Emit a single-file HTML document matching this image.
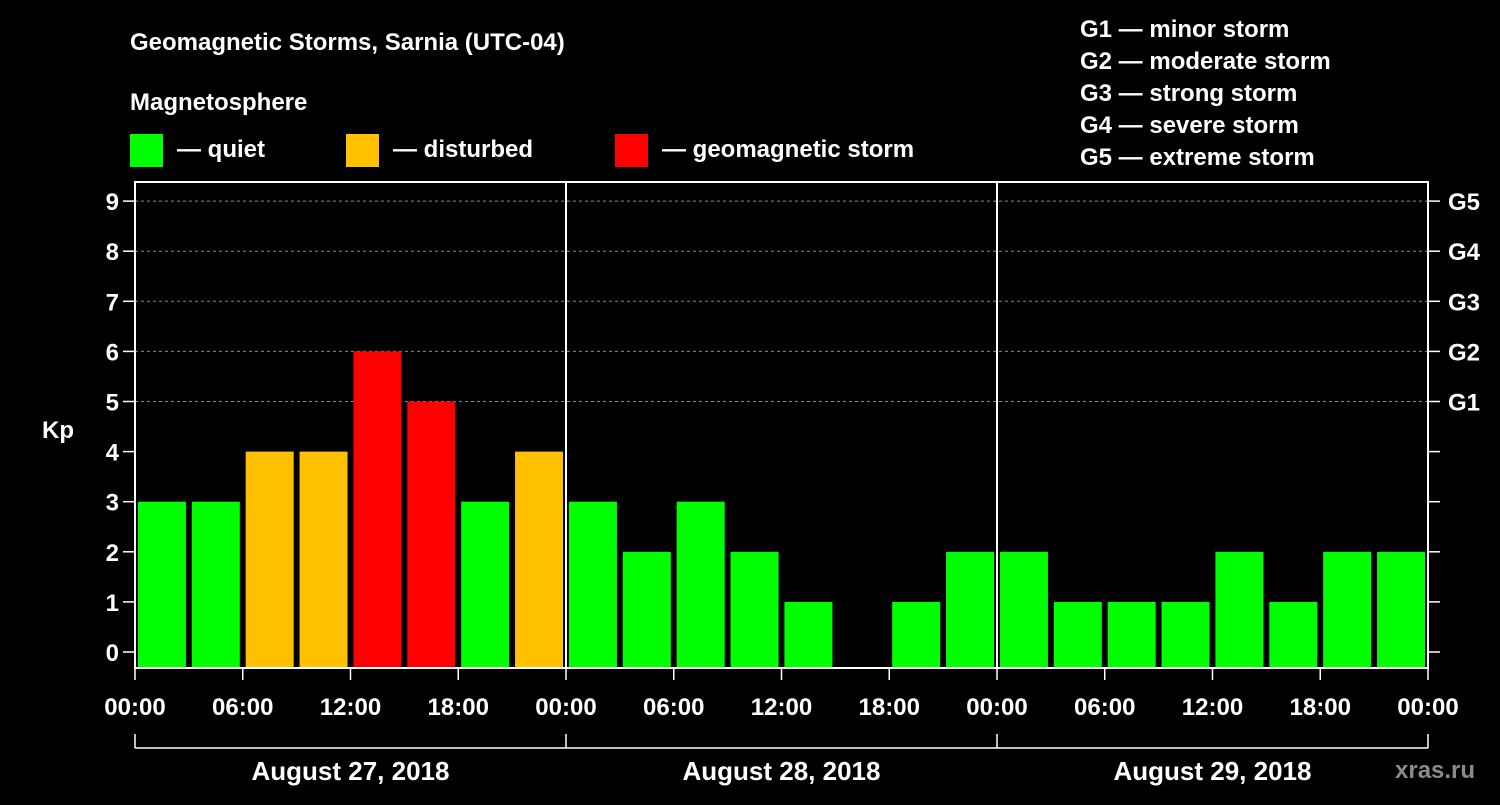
<!DOCTYPE html>
<html><head><meta charset="utf-8"><style>
html,body{margin:0;padding:0;background:#000;}
svg text{font-family:"Liberation Sans",Arial,sans-serif;font-weight:bold;fill:#fff;}
</style></head><body>
<svg id="chart" width="1500" height="800" viewBox="0 0 1500 800" xmlns="http://www.w3.org/2000/svg">
<rect width="1500" height="800" fill="#000"/>
<text x="130" y="50" font-size="24">Geomagnetic Storms, Sarnia (UTC-04)</text>
<text x="130" y="110" font-size="24">Magnetosphere</text>
<g><rect x="130" y="134" width="33" height="33" fill="#00ff00"/><text x="177" y="157" font-size="24">— quiet</text></g>
<g><rect x="346" y="134" width="33" height="33" fill="#ffc000"/><text x="393" y="157" font-size="24">— disturbed</text></g>
<g><rect x="615" y="134" width="33" height="33" fill="#ff0000"/><text x="662" y="157" font-size="24">— geomagnetic storm</text></g>
<g font-size="24">
<text x="1080" y="37" font-size="24">G1 — minor storm</text>
<text x="1080" y="69" font-size="24">G2 — moderate storm</text>
<text x="1080" y="101" font-size="24">G3 — strong storm</text>
<text x="1080" y="133" font-size="24">G4 — severe storm</text>
<text x="1080" y="165" font-size="24">G5 — extreme storm</text>
</g>
<text x="42" y="438" font-size="24">Kp</text>
<text x="1395" y="778" font-size="24" fill="#888" style="fill:#8a8a8a">xras.ru</text>
<g id="plot"></g>
</svg>
<script>
const kpValues=[3,3,4,4,6,5,3,4,3,2,3,2,1,0,1,2,2,1,1,1,2,1,2,2,1];
const yTicks=[0,1,2,3,4,5,6,7,8,9];
const gLabels=["","","","","","G1","G2","G3","G4","G5"];
const xTickLabels=["00:00","06:00","12:00","18:00","00:00","06:00","12:00","18:00","00:00","06:00","12:00","18:00","00:00"];
const dayLabels=["August 27, 2018","August 28, 2018","August 29, 2018"];
const NS="http://www.w3.org/2000/svg";
const L=135,R=1428,T=182,B=668;
const hourW=(R-L)/72;
const x=h=>L+h*hourW;
const y=v=>652-50.1*v;
const g=document.getElementById('plot');
function mk(t,a,p){const e=document.createElementNS(NS,t);for(const k in a)e.setAttribute(k,a[k]);(p||g).appendChild(e);return e;}
const clip=mk('clipPath',{id:'pc'});mk('rect',{x:L,y:T,width:R-L,height:B-T},clip);
// grid
yTicks.forEach(v=>{if(v>=5){const l=mk('line',{x1:L,x2:R,y1:y(v),y2:y(v),stroke:'#888','stroke-dasharray':'3,3','stroke-width':1});

}});
// bars
const bg=mk('g',{'clip-path':'url(#pc)'});
kpValues.forEach((v,i)=>{
 const c=x(i*3+1.5);
 const col=v>=5?'#ff0000':(v>=4?'#ffc000':'#00ff00');
 if(v<=0)return;
 const r=mk('rect',{x:c-24,y:y(v),width:48,height:B-y(v),fill:col},bg);
 
 
});
// day separators
[1,2].forEach(d=>{const l=mk('line',{x1:x(d*24),x2:x(d*24),y1:T,y2:B,stroke:'#fff','stroke-width':2});

});
// frame
const f=mk('rect',{x:L,y:T,width:R-L,height:B-T,fill:'none',stroke:'#fff','stroke-width':2});


// y ticks
yTicks.forEach((v,i)=>{
 mk('line',{x1:L-12,x2:L,y1:y(v),y2:y(v),stroke:'#fff','stroke-width':1.5});
 mk('line',{x1:R,x2:R+12,y1:y(v),y2:y(v),stroke:'#fff','stroke-width':1.5});
 const t=mk('text',{x:L-16,y:y(v)+9,'text-anchor':'end','font-size':24});t.textContent=v;
 
 
 if(gLabels[i]){const t2=mk('text',{x:R+20,y:y(v)+9,'font-size':24});t2.textContent=gLabels[i];
 
 }
});
// x ticks
xTickLabels.forEach((s,i)=>{
 const xx=x(i*6);
 mk('line',{x1:xx,x2:xx,y1:B,y2:B+12,stroke:'#fff','stroke-width':1.5});
 const t=mk('text',{x:xx,y:715,'text-anchor':'middle','font-size':24});t.textContent=s;
 
 
});
// day bracket
mk('line',{x1:L,x2:R,y1:748,y2:748,stroke:'#fff','stroke-width':1.5});
[0,1,2,3].forEach(d=>mk('line',{x1:x(d*24),x2:x(d*24),y1:734,y2:748,stroke:'#fff','stroke-width':1.5}));
dayLabels.forEach((s,d)=>{const t=mk('text',{x:x(d*24+12),y:780,'text-anchor':'middle','font-size':26});t.textContent=s;
 
 });
</script>
</body></html>
